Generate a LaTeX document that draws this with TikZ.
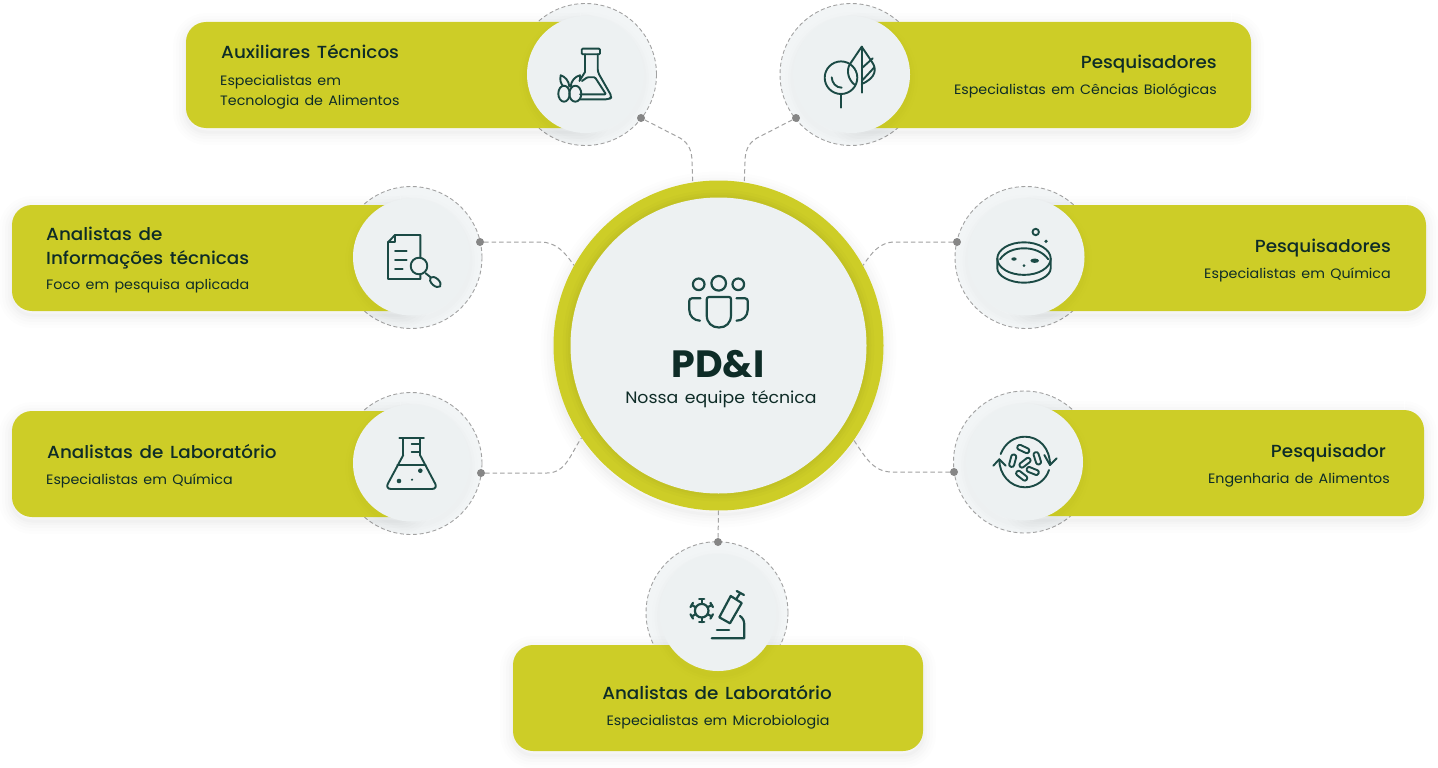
\documentclass[tikz,border=0pt]{standalone}
\usepackage{fontspec}
\setmainfont{Poppins}[FakeStretch=1.05, WordSpace=1.4, BoldFont={Poppins Medium}]
\newfontfamily\heavyfont{Poppins}[UprightFont={* Bold}]

\definecolor{barcol}{HTML}{CDCD27}
\definecolor{paper}{HTML}{EDF1F2}
\definecolor{inkcol}{HTML}{1B4A45}
\definecolor{txtcol}{HTML}{0E2C27}
\definecolor{dashcol}{HTML}{A2A2A2}
\definecolor{dotcol}{HTML}{868686}

\tikzset{
    shadowlayer/.style 2 args={preaction={draw=black, draw opacity=#2, line width=#1pt, dash pattern=on 1000pt off 0pt, transform canvas={yshift=-4pt}}},
    softshadow/.style={shadowlayer={26}{0.006}, shadowlayer={20}{0.008}, shadowlayer={14}{0.01}, shadowlayer={8}{0.012}, shadowlayer={3}{0.014}},
    faceshadow/.style={shadowlayer={16}{0.005}, shadowlayer={10}{0.007}, shadowlayer={5}{0.009}},
    hubglow/.style={preaction={draw=black, draw opacity=0.012, line width=16pt}, preaction={draw=black, draw opacity=0.015, line width=10pt}, preaction={draw=black, draw opacity=0.018, line width=5pt}},
    bar/.style={fill=barcol, rounded corners=20pt, minimum height=106pt, inner sep=0pt, softshadow},
    disc/.style={circle, draw=dashcol, fill=paper!70!white, line width=0.9pt, dash pattern=on 4pt off 2.6pt, minimum size=142pt, inner sep=0pt},
    face/.style={circle, fill=paper, minimum size=117pt, inner sep=0pt, faceshadow},
    link/.style={draw=dashcol, line width=1pt, dash pattern=on 4.5pt off 3pt},
    linkdot/.style={circle, fill=dotcol, minimum size=8pt, inner sep=0pt},
    icon/.style={draw=inkcol, line width=1.9pt, line cap=round, line join=round},
    title/.style={inner sep=0pt, text=txtcol, font=\fontsize{17.5}{21}\selectfont\bfseries},
    note/.style={inner sep=0pt, text=txtcol, font=\fontsize{13.6}{17}\selectfont},
}

\begin{document}
\begin{tikzpicture}[x=1pt, y=-1pt]
    \useasboundingbox (0,0) rectangle (1438,768);

    % Dashed discs behind the bars
    \node (discAux) [disc] at (585.5,74.5) {};
    \node (discTree) [disc] at (851,74.5) {};
    \node (discInfo) [disc] at (411,257.5) {};
    \node (discLab) [disc] at (411,463.5) {};
    \node (discDish) [disc] at (1026,257.5) {};
    \node (discCycle) [disc] at (1024.5,462) {};
    \node (discMicro) [disc] at (717,612.7) {};

    % Bars
    \node (barAux) [bar, minimum width=414pt] at (393,75) {};
    \node (barTree) [bar, minimum width=411pt] at (1045.5,75) {};
    \node (barInfo) [bar, minimum width=408pt] at (216,258) {};
    \node (barLab) [bar, minimum width=408pt] at (216,464) {};
    \node (barDish) [bar, minimum width=410pt] at (1221,258) {};
    \node (barCycle) [bar, minimum width=410pt] at (1219,463) {};
    \node (barMicro) [bar, minimum width=410pt] at (718,698) {};

    % Faces on top of the bars
    \node (faceAux) [face] at (585.5,74.5) {};
    \node (faceTree) [face] at (851.5,74.5) {};
    \node (faceInfo) [face] at (411.5,257) {};
    \node (faceLab) [face] at (411.5,463) {};
    \node (faceDish) [face] at (1026,257) {};
    \node (faceCycle) [face] at (1024.5,462) {};
    \node (faceMicro) [face] at (718,612.5) {};

    % Hub
    \node (hub) [circle, fill=barcol, minimum size=330pt, inner sep=0pt, softshadow] at (718.5,345.5) {};
    \node (hubface) [circle, fill=paper, minimum size=296pt, inner sep=0pt, hubglow] at (718.5,345.5) {};

    % Connectors
    \coordinate (kneeAux) at (680,138);
    \coordinate (kneeTree) at (757,138);
    \coordinate (kneeInfo) at (540,242);
    \coordinate (kneeLab) at (547,473);
    \coordinate (kneeDish) at (895,242);
    \coordinate (kneeCycle) at (892,472);
    \coordinate (dropAux) at (692,162);
    \coordinate (dropTree) at (745,162);
    \node (dotAux) [linkdot] at (641,118) {};
    \node (dotTree) [linkdot] at (796,118) {};
    \node (dotInfo) [linkdot] at (480,242) {};
    \node (dotLab) [linkdot] at (481,473) {};
    \node (dotDish) [linkdot] at (957,242) {};
    \node (dotCycle) [linkdot] at (954,472) {};
    \node (dotMicro) [linkdot] at (718,542) {};
    \draw[link] (dotAux) -- (kneeAux) to[out=-30, in=90] (dropAux) -- (hub.99);
    \draw[link] (dotTree) -- (kneeTree) to[out=210, in=90] (dropTree) -- (hub.81);
    \draw[link] (dotInfo) -- (kneeInfo) to[out=0, in=125] (hub.151);
    \draw[link] (dotLab) -- (kneeLab) to[out=0, in=235] (hub.214);
    \draw[link] (dotDish) -- (kneeDish) to[out=180, in=55] (hub.29);
    \draw[link] (dotCycle) -- (kneeCycle) to[out=180, in=305] (hub.-35);
    \draw[link] (hub.270) -- (dotMicro);

    % Texts
    \node (titleAux) [title, anchor=base west] at (221,59) {Auxiliares Técnicos};
    \node (noteAuxa) [note, anchor=base west] at (220,85) {Especialistas em};
    \node (noteAuxb) [note, anchor=base west] at (220,106) {Tecnologia de Alimentos};
    \node (titleTree) [title, anchor=base east] at (1217,69) {Pesquisadores};
    \node (noteTree) [note, anchor=base east] at (1217,95) {Especialistas em Cências Biológicas};
    \node (titleInfoa) [title, anchor=base west] at (46,240) {Analistas de};
    \node (titleInfob) [title, anchor=base west] at (46,264) {Informações técnicas};
    \node (noteInfo) [note, anchor=base west] at (46,289) {Foco em pesquisa aplicada};
    \node (titleLab) [title, anchor=base west] at (47,458) {Analistas de Laboratório};
    \node (noteLab) [note, anchor=base west] at (46,484) {Especialistas em Química};
    \node (titleDish) [title, anchor=base east] at (1391,252) {Pesquisadores};
    \node (noteDish) [note, anchor=base east] at (1391,278) {Especialistas em Química};
    \node (titleCycle) [title, anchor=base east] at (1386,457) {Pesquisador};
    \node (noteCycle) [note, anchor=base east] at (1390,483) {Engenharia de Alimentos};
    \node (titleMicro) [title, anchor=base] at (717,699) {Analistas de Laboratório};
    \node (noteMicro) [note, anchor=base] at (718,725) {Especialistas em Microbiologia};
    \node (hubname) [inner sep=0pt, anchor=base, text=txtcol, font=\fontsize{38}{40}\selectfont\heavyfont] at (718,377) {PD\&I};
    \node (hubnote) [inner sep=0pt, anchor=base, text=txtcol, font=\fontsize{16.5}{20}\selectfont] at (721,403) {Nossa equipe técnica};

    % Hub icon
    \draw[icon, line width=2.2pt] (698.7,284.3) circle (5.8);
    \draw[icon, line width=2.2pt] (718.7,283.3) circle (7.3);
    \draw[icon, line width=2.2pt] (738.3,284.3) circle (5.8);
    \draw[icon, line width=2.2pt] (709,297) -- (729,297) .. controls (730.5,297) and (731,298) .. (731,299.5) -- (731,315) .. controls (731,323) and (726,327.5) .. (719,327.5) .. controls (712,327.5) and (706.7,323) .. (706.7,315) -- (706.7,299.5) .. controls (706.7,298) and (707.5,297) .. (709,297);
    \draw[icon, line width=2.2pt] (700.5,298.3) -- (692,298.3) .. controls (690,298.3) and (689.3,299.5) .. (689.3,301) -- (689.3,310) .. controls (689.3,316) and (694,320.7) .. (700,320.7);
    \draw[icon, line width=2.2pt] (736.5,298.3) -- (745,298.3) .. controls (747,298.3) and (747.7,299.5) .. (747.7,301) -- (747.7,310) .. controls (747.7,316) and (743,320.7) .. (736.5,320.7);

    % Flask and berries
    \draw[icon, rounded corners=1pt] (581.7,48.7) rectangle (600,54.3);
    \draw[icon] (585,54.3) -- (585,72) -- (580,80);
    \draw[icon, rounded corners=3pt] (597.7,54.3) -- (597.7,72) -- (612,97) -- (609,99.3) -- (580,99.3);
    \draw[icon, rounded corners=1pt] (582,81) -- (587.3,77.3) -- (595,77.3) -- (606,94.3) -- (580,94.3);
    \draw[icon] (564,93.7) ellipse [x radius=5.7, y radius=8];
    \draw[icon] (575.3,93.7) ellipse [x radius=6, y radius=8];
    \draw[icon] (569.3,86.5) .. controls (569,81) and (565,76.5) .. (560.7,75.3) .. controls (559.5,80) and (561,84) .. (563,86);
    \draw[icon] (570.7,86.5) .. controls (571,81) and (575,76.5) .. (580,75.3) .. controls (580.5,78) and (580,80) .. (579.5,81);

    % Tree and leaf
    \draw[icon] (841,77.7) circle (16.3);
    \draw[icon] (841,94) -- (841,107.7);
    \draw[icon] (831.7,77.3) .. controls (832,83) and (836,87.7) .. (841.7,87.7);
    \draw[icon] (861.7,46.7) -- (861.7,92.7);
    \draw[icon] (861.7,46.7) -- (872,62) .. controls (877,69) and (876,78) .. (861.7,84);
    \draw[icon] (861.7,46.7) -- (850,64) .. controls (846,70) and (848,80) .. (855,85);
    \draw[icon] (861.7,68.3) -- (872.7,58.3);
    \draw[icon] (861.7,81) -- (874,67.7);

    % Document and magnifier
    \draw[icon] (420.3,257.3) -- (420.3,235) -- (395,235) -- (388,242.3) -- (388,279) -- (420.3,279) -- (420.3,274.3);
    \draw[icon] (395,235) -- (395,242.3) -- (388,242.3);
    \draw[icon] (395,251) -- (406.7,251);
    \draw[icon] (395,260.3) -- (406.7,260.3);
    \draw[icon] (395,269) -- (402.7,269);
    \draw[icon] (419,266) circle (8.3);
    \draw[icon] (425.7,273.3) -- (430.7,277.3);
    \draw[icon, shift={(435.3,282)}, rotate=-42] (0,0) ellipse [x radius=6.5, y radius=3.7];

    % Lab flask
    \draw[icon] (399.3,438.3) -- (424,438.3);
    \draw[icon] (403.3,438.3) -- (403.3,455);
    \draw[icon] (420,438.3) -- (420,455);
    \draw[icon, rounded corners=6pt] (403.3,455) -- (385,489) -- (438,489) -- (420,455);
    \draw[icon] (411.7,444.3) -- (420,444.3);
    \draw[icon] (411.7,451.7) -- (420,451.7);
    \draw[icon] (397.3,465) -- (425.7,465);
    \fill[inkcol] (399,481) circle (2.3);
    \fill[inkcol] (420.3,470.7) circle (2.3);
    \fill[inkcol] (412,479.7) circle (1.2);

    % Petri dish
    \draw[icon] (1024,258.6) ellipse [x radius=26.7, y radius=16.3];
    \draw[icon] (997.3,258.6) -- (997.3,268.3) .. controls (997.3,276) and (1010,282.7) .. (1024,282.7) .. controls (1038,282.7) and (1050.7,276) .. (1050.7,268.3) -- (1050.7,258.6);
    \draw[icon] (1000,259.3) .. controls (1005,252) and (1014,248.3) .. (1024,248.3) .. controls (1034,248.3) and (1043,252) .. (1048.3,259.3);
    \fill[inkcol] (1014,259) ellipse [x radius=2.7, y radius=1.7];
    \fill[inkcol] (1034.7,260.7) ellipse [x radius=4.3, y radius=2.2];
    \fill[inkcol] (1024,265.7) circle (1.5);
    \draw[icon] (1035.7,232) circle (3.2);
    \fill[inkcol] (1046,241.3) circle (1.8);

    % Bacteria in a cycle
    \draw[icon] (1000.7,454) .. controls (1005,443) and (1014,436.7) .. (1025,436.7) .. controls (1039,436.7) and (1050,448) .. (1050,465);
    \draw[icon] (1044.3,455) -- (1050,465) -- (1056.7,458.3);
    \draw[icon] (1049,470) .. controls (1046,480) and (1036,487.3) .. (1025,487.3) .. controls (1010,487.3) and (999,474) .. (999.3,459.3);
    \draw[icon] (993.3,465.7) -- (999.3,459.3) -- (1005.7,465.7);
    \foreach \cx/\cy/\ang in {1023.3/449/-25, 1012.7/460.7/75, 1037.3/458.3/-72, 1025/462.7/38, 1032.7/471/-22, 1021.7/475.7/-38}
        \draw[icon, shift={(\cx,\cy)}, rotate=\ang, rounded corners=2.2pt] (-6.3,-2.5) rectangle (6.3,2.5);

    % Virus and microscope
    \draw[icon, line width=2.2pt] (701.7,610.7) circle (6.8);
    \foreach \ang in {30,90,150,210,270,330}{
        \draw[icon, line width=2.2pt, shift={(701.7,610.7)}, rotate=\ang] (7,0) -- (11.5,0);
        \draw[icon, line width=2.2pt, shift={(701.7,610.7)}, rotate=\ang] (11.5,-2.5) -- (11.5,2.5);
    }
    \draw[icon, line width=2.2pt] (730.7,596) -- (741.7,603) -- (730,623.3) -- (719.3,617.3) -- cycle;
    \draw[icon, line width=2.2pt] (736.7,591) -- (744,595);
    \draw[icon, line width=2.2pt] (740.3,593) -- (736.3,599);
    \draw[icon, line width=2.2pt] (740,616) .. controls (743,618) and (744.3,621) .. (744.3,625) -- (744.3,638.3) -- (711.7,638.3);
    \draw[icon, line width=2.6pt] (717,630) -- (729,630);
\end{tikzpicture}
\end{document}
